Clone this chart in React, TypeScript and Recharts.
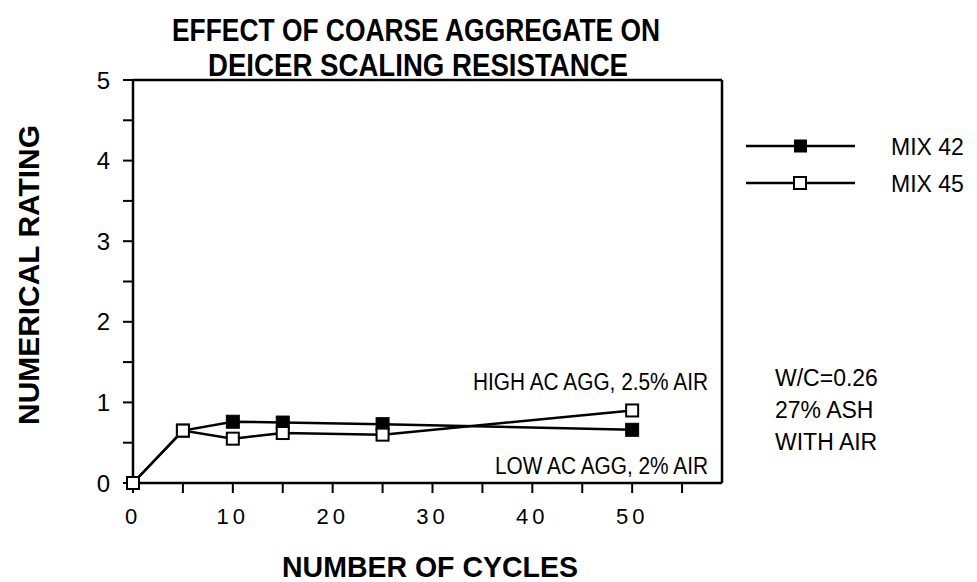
import React from 'react';
import { LineChart, Line, XAxis, YAxis, ReferenceLine } from 'recharts';

const cycles = [0, 5, 10, 15, 25, 50];
const mix42 = [0, 0.65, 0.76, 0.75, 0.73, 0.66];
const mix45 = [0, 0.65, 0.55, 0.62, 0.6, 0.9];
const xTicks = [0, 5, 10, 15, 20, 25, 30, 35, 40, 45, 50, 55];
const yTicks = [0, 0.5, 1, 1.5, 2, 2.5, 3, 3.5, 4, 4.5, 5];
const seriesNames = ['MIX 42', 'MIX 45'];
const titleLines = ['EFFECT OF COARSE AGGREGATE ON', 'DEICER SCALING RESISTANCE'];
const noteLines = ['W/C=0.26', '27% ASH', 'WITH AIR'];
const highLabel = 'HIGH AC AGG, 2.5% AIR';
const lowLabel = 'LOW AC AGG, 2% AIR';

const data = cycles.map((c, i) => ({ c, m42: mix42[i], m45: mix45[i] }));

const FONT = '"Liberation Sans", Arial, Helvetica, sans-serif';

const FilledSq = (p: any) => {
  const { cx, cy } = p;
  if (cx == null || cy == null) return null;
  return <rect x={cx - 6.5} y={cy - 6.5} width={13} height={13} fill="#000" stroke="#000" strokeWidth={1} />;
};
const OpenSq = (p: any) => {
  const { cx, cy } = p;
  if (cx == null || cy == null) return null;
  return <rect x={cx - 6} y={cy - 6} width={12} height={12} fill="#fff" stroke="#000" strokeWidth={2} />;
};

export default function App() {
  return (
    <div style={{ position: 'absolute', left: 0, top: 0, width: 977, height: 582, background: '#fff' }}>
      <LineChart
        width={977}
        height={582}
        data={data}
        margin={{ top: 80, right: 255, bottom: 69, left: 73 }}
      >
        <XAxis
          dataKey="c"
          type="number"
          domain={[0, 59]}
          ticks={xTicks}
          height={30}
          tickSize={10}
          tickMargin={15}
          interval={0}
          axisLine={{ stroke: '#000', strokeWidth: 2.5 }}
          tickLine={{ stroke: '#000', strokeWidth: 2 }}
          tickFormatter={(v: number) => (v % 10 === 0 ? String(v) : '')}
          tick={{ fill: '#000', fontSize: 22, fontFamily: FONT, letterSpacing: 4 }}
        />
        <YAxis
          type="number"
          domain={[0, 5]}
          ticks={yTicks}
          width={60}
          tickSize={10}
          tickMargin={13}
          interval={0}
          axisLine={{ stroke: '#000', strokeWidth: 2.5 }}
          tickLine={{ stroke: '#000', strokeWidth: 2 }}
          tickFormatter={(v: number) => (Number.isInteger(v) ? String(v) : '')}
          tick={{ fill: '#000', fontSize: 24, fontFamily: FONT }}
        />
        <ReferenceLine y={5} stroke="#000" strokeWidth={2.5} />
        <ReferenceLine x={59} stroke="#000" strokeWidth={2.5} />
        <Line
          name={seriesNames[0]}
          dataKey="m42"
          stroke="#000"
          strokeWidth={2.5}
          dot={<FilledSq />}
          activeDot={false}
          isAnimationActive={false}
        />
        <Line
          name={seriesNames[1]}
          dataKey="m45"
          stroke="#000"
          strokeWidth={2.5}
          dot={<OpenSq />}
          activeDot={false}
          isAnimationActive={false}
        />
      </LineChart>
      <svg
        width={977}
        height={582}
        style={{ position: 'absolute', left: 0, top: 0, pointerEvents: 'none' }}
        fontFamily={FONT}
      >
        <text x={416} y={41} fontSize={31} fontWeight="bold" textAnchor="middle" textLength={488} lengthAdjust="spacingAndGlyphs">
          {titleLines[0]}
        </text>
        <text x={418} y={76} fontSize={31} fontWeight="bold" textAnchor="middle" textLength={420} lengthAdjust="spacingAndGlyphs">
          {titleLines[1]}
        </text>
        <text
          x={0}
          y={0}
          fontSize={30}
          fontWeight="bold"
          textAnchor="middle"
          textLength={300}
          lengthAdjust="spacingAndGlyphs"
          transform="translate(39 275) rotate(-90)"
        >
          NUMERICAL RATING
        </text>
        <text x={430} y={577} fontSize={30} fontWeight="bold" textAnchor="middle" textLength={296} lengthAdjust="spacingAndGlyphs">
          NUMBER OF CYCLES
        </text>
        <text x={708} y={390} fontSize={23} textAnchor="end" textLength={235} lengthAdjust="spacingAndGlyphs">
          {highLabel}
        </text>
        <text x={708} y={474} fontSize={23} textAnchor="end" textLength={213} lengthAdjust="spacingAndGlyphs">
          {lowLabel}
        </text>
        {noteLines.map((t, i) => (
          <text key={t} x={775} y={386 + i * 32} fontSize={23}>
            {t}
          </text>
        ))}
        {seriesNames.map((n, i) => {
          const y = 146 + i * 37;
          return (
            <g key={n}>
              <line x1={746} x2={855} y1={y} y2={y} stroke="#000" strokeWidth={2.5} />
              {i === 0 ? (
                <rect x={794} y={y - 6.5} width={13} height={13} fill="#000" />
              ) : (
                <rect x={794} y={y - 6} width={12} height={12} fill="#fff" stroke="#000" strokeWidth={2} />
              )}
              <text x={891} y={y + 9} fontSize={23}>{n}</text>
            </g>
          );
        })}
      </svg>
    </div>
  );
}
